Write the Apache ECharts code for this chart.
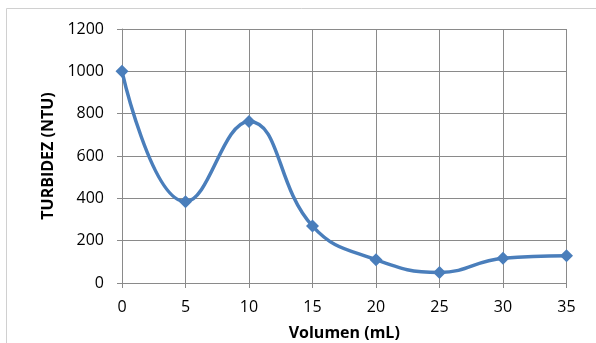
<!DOCTYPE html>
<html>
<head>
<meta charset="utf-8">
<script src="https://cdn.jsdelivr.net/npm/echarts@6/dist/echarts.min.js"></script>
<style>
html,body{margin:0;padding:0;background:#fff;}
#chart{width:596px;height:343px;}
</style>
</head>
<body>
<div id="chart"></div>
<script>
// Turbidity measured against added volume
const volumes = [0, 5, 10, 15, 20, 25, 30, 35];
const turbidity = [1000, 384, 763, 269, 110, 50, 117, 129];
const yTicks = [0, 200, 400, 600, 800, 1000, 1200];
const xTicks = [0, 5, 10, 15, 20, 25, 30, 35];

const FONT = "'Open Sans', 'Liberation Sans', sans-serif";
const GRID = '#8a8a8a';

const chart = echarts.init(document.getElementById('chart'), null, {renderer: 'canvas'});
chart.setOption({
  animation: false,
  backgroundColor: '#fff',
  graphic: [{
    type: 'rect',
    shape: {x: 6.5, y: 8.5, width: 600, height: 350},
    style: {fill: 'none', stroke: '#d0d0d0', lineWidth: 1},
    silent: true
  }],
  grid: {left: 122, right: 29.5, top: 29, bottom: 60, containLabel: false, outerBoundsMode: 'none'},
  xAxis: {
    type: 'value',
    min: xTicks[0],
    max: xTicks[xTicks.length - 1],
    interval: 5,
    name: 'Volumen (mL)',
    nameLocation: 'middle',
    nameGap: 42,
    nameTextStyle: {fontFamily: FONT, fontWeight: 'bold', fontSize: 16, color: '#000'},
    axisLine: {show: true, lineStyle: {color: GRID, width: 1}},
    axisTick: {show: true, length: 5, lineStyle: {color: GRID}},
    axisLabel: {fontFamily: FONT, fontSize: 16, color: '#000', margin: 16, formatter: v => String(v)},
    splitLine: {show: true, lineStyle: {color: GRID, width: 1}}
  },
  yAxis: {
    type: 'value',
    min: yTicks[0],
    max: yTicks[yTicks.length - 1],
    interval: 200,
    name: 'TURBIDEZ (NTU)',
    nameLocation: 'middle',
    nameGap: 66,
    nameTextStyle: {fontFamily: FONT, fontWeight: 'bold', fontSize: 16, color: '#000'},
    axisLine: {show: true, lineStyle: {color: GRID, width: 1}},
    axisTick: {show: true, length: 5, lineStyle: {color: GRID}},
    axisLabel: {fontFamily: FONT, fontSize: 16, color: '#000', margin: 18, formatter: v => String(v)},
    splitLine: {show: true, lineStyle: {color: GRID, width: 1}}
  },
  series: [{
    type: 'line',
    data: volumes.map((v, i) => [v, turbidity[i]]),
    smooth: 0.45,
    symbol: 'diamond',
    symbolSize: 13,
    lineStyle: {color: '#4a7ebb', width: 3.5},
    itemStyle: {color: '#4a7ebb'}
  }]
});
</script>
</body>
</html>
